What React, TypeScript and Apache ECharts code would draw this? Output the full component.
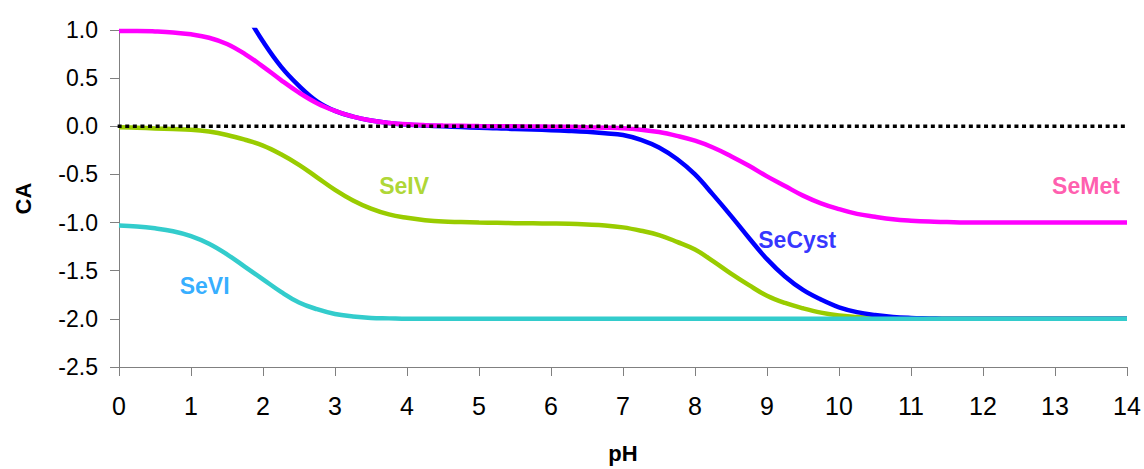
import React, { useEffect, useRef } from "react";
import * as echarts from "echarts";

const PH = [
  0, 0.25, 0.5, 0.75, 1, 1.25, 1.5, 1.75, 2, 2.25, 2.5, 2.75, 3, 3.25, 3.5, 3.75,
  4, 4.25, 4.5, 4.75, 5, 5.25, 5.5, 5.75, 6, 6.25, 6.5, 6.75, 7, 7.25, 7.5, 7.75,
  8, 8.25, 8.5, 8.75, 9, 9.25, 9.5, 9.75, 10, 10.25, 10.5, 10.75, 11, 11.25, 11.5, 11.75,
  12, 12.25, 12.5, 12.75, 13, 13.25, 13.5, 13.75, 14,
];

const SE_MET = [
  0.99, 0.99, 0.985, 0.975, 0.955, 0.92, 0.855, 0.75, 0.62, 0.48, 0.35, 0.24, 0.16, 0.1, 0.06, 0.035,
  0.02, 0.012, 0.008, 0.005, 0.002, 0, 0, -0.002, -0.004, -0.006, -0.01, -0.014, -0.02, -0.035, -0.06, -0.1,
  -0.15, -0.22, -0.31, -0.41, -0.52, -0.62, -0.72, -0.8, -0.86, -0.91, -0.94, -0.965, -0.98, -0.99, -0.995, -1.0,
  -1.0, -1.0, -1.0, -1.0, -1.0, -1.0, -1.0, -1.0, -1.0,
];
const SE_CYST = [
  1.97, 1.96, 1.93, 1.88, 1.8, 1.66, 1.45, 1.18, 0.88, 0.62, 0.42, 0.26, 0.16, 0.1, 0.06, 0.035,
  0.018, 0.008, 0.0, -0.008, -0.015, -0.02, -0.028, -0.034, -0.04, -0.048, -0.058, -0.072, -0.09, -0.14, -0.22, -0.34,
  -0.5, -0.71, -0.93, -1.16, -1.38, -1.56, -1.7, -1.8, -1.88, -1.93, -1.96, -1.98, -1.99, -1.995, -2.0, -2.0,
  -2.0, -2.0, -2.0, -2.0, -2.0, -2.0, -2.0, -2.0, -2.0,
];
const SE_IV = [
  -0.01, -0.015, -0.022, -0.028, -0.035, -0.055, -0.09, -0.14, -0.2, -0.29, -0.4, -0.53, -0.66, -0.77, -0.855, -0.915,
  -0.95, -0.975, -0.99, -0.995, -1.0, -1.003, -1.006, -1.008, -1.01, -1.013, -1.02, -1.03, -1.05, -1.085, -1.13, -1.2,
  -1.28, -1.4, -1.53, -1.65, -1.76, -1.835, -1.89, -1.935, -1.965, -1.98, -1.99, -1.995, -2.0, -2.0, -2.0, -2.0,
  -2.0, -2.0, -2.0, -2.0, -2.0, -2.0, -2.0, -2.0, -2.0,
];
const SE_VI = [
  -1.03, -1.04, -1.06, -1.09, -1.14, -1.22, -1.33, -1.46, -1.59, -1.72, -1.83, -1.9, -1.95, -1.975, -1.99, -1.995,
  -2.0, -2.0, -2.0, -2.0, -2.0, -2.0, -2.0, -2.0, -2.0, -2.0, -2.0, -2.0, -2.0, -2.0, -2.0, -2.0,
  -2.0, -2.0, -2.0, -2.0, -2.0, -2.0, -2.0, -2.0, -2.0, -2.0, -2.0, -2.0, -2.0, -2.0, -2.0, -2.0,
  -2.0, -2.0, -2.0, -2.0, -2.0, -2.0, -2.0, -2.0, -2.0,
];

const ZERO_LINE_PH = [-0.23, 14];
const ZERO_LINE_CA = [0, 0];

const LABEL_NAMES = ["SeIV", "SeVI", "SeCyst", "SeMet"];
const LABEL_PH = [3.96, 1.19, 9.42, 13.43];
const LABEL_CA = [-0.62, -1.66, -1.18, -0.62];
const LABEL_COLORS = ["#99CC00", "#0099FF", "#0000FF", "#FF3399"];

const FONT = "'Liberation Sans', Arial, sans-serif";

const pairs = (ys: number[]) => PH.map((x, i) => [x, ys[i]]);

export default function App() {
  const ref = useRef<HTMLDivElement>(null);

  useEffect(() => {
    if (!ref.current) return;
    const chart = echarts.init(ref.current, null, { renderer: "svg" });

    const lineSeries = (name: string, ys: number[], color: string) => ({
      name,
      type: "line",
      data: pairs(ys),
      smooth: 0.4,
      showSymbol: false,
      symbol: "none",
      lineStyle: { color, width: 4.5 },
      z: 2,
    });

    chart.setOption({
      animation: false,
      backgroundColor: "#ffffff",
      grid: { left: 119, right: 17, top: 30, bottom: 100 },
      xAxis: {
        type: "value",
        min: 0,
        max: 14,
        interval: 1,
        name: "pH",
        nameLocation: "middle",
        nameGap: 86,
        nameTextStyle: {
          fontFamily: FONT,
          fontSize: 22,
          fontWeight: "bold",
          color: "#000",
          verticalAlign: "middle",
        },
        axisLine: { show: true, onZero: false, lineStyle: { color: "#808080", width: 1 } },
        axisTick: { show: true, length: 9, inside: false, lineStyle: { color: "#808080" } },
        axisLabel: { fontFamily: FONT, fontSize: 25, color: "#000", margin: 26 },
        splitLine: { show: false },
      },
      yAxis: {
        type: "value",
        min: -2.5,
        max: 1,
        interval: 0.5,
        name: "CA",
        nameLocation: "middle",
        nameRotate: 90,
        nameGap: 96,
        nameTextStyle: {
          fontFamily: FONT,
          fontSize: 22,
          fontWeight: "bold",
          color: "#000",
          verticalAlign: "middle",
        },
        axisLine: { show: true, onZero: false, lineStyle: { color: "#808080", width: 1 } },
        axisTick: { show: true, length: 9, inside: false, lineStyle: { color: "#808080" } },
        axisLabel: {
          fontFamily: FONT,
          fontSize: 23,
          color: "#000",
          margin: 21,
          formatter: (v: number) => v.toFixed(1),
        },
        splitLine: { show: false },
      },
      series: [
        lineSeries("SeIV", SE_IV, "#99CC00"),
        lineSeries("SeCyst", SE_CYST, "#0000FF"),
        lineSeries("SeMet", SE_MET, "#FF00FF"),
        lineSeries("SeVI", SE_VI, "#33CCCC"),
        {
          name: "zero",
          type: "line",
          data: ZERO_LINE_PH.map((x, i) => [x, ZERO_LINE_CA[i]]),
          showSymbol: false,
          symbol: "none",
          clip: false,
          lineStyle: { color: "#000000", width: 3.5, type: [4, 3.6], cap: "butt" },
          z: 3,
        },
        {
          name: "labels",
          type: "scatter",
          symbolSize: 0,
          silent: true,
          z: 4,
          data: LABEL_NAMES.map((n, i) => ({
            name: n,
            value: [LABEL_PH[i], LABEL_CA[i]],
            label: {
              show: true,
              position: "inside",
              formatter: n,
              color: LABEL_COLORS[i],
              fontFamily: FONT,
              fontSize: 23,
              fontWeight: "bold",
            },
          })),
        },
      ],
    });

    return () => chart.dispose();
  }, []);

  return (
    <div
      ref={ref}
      style={{ position: "fixed", left: 0, top: 0, width: 1144, height: 469, background: "#fff" }}
    />
  );
}
